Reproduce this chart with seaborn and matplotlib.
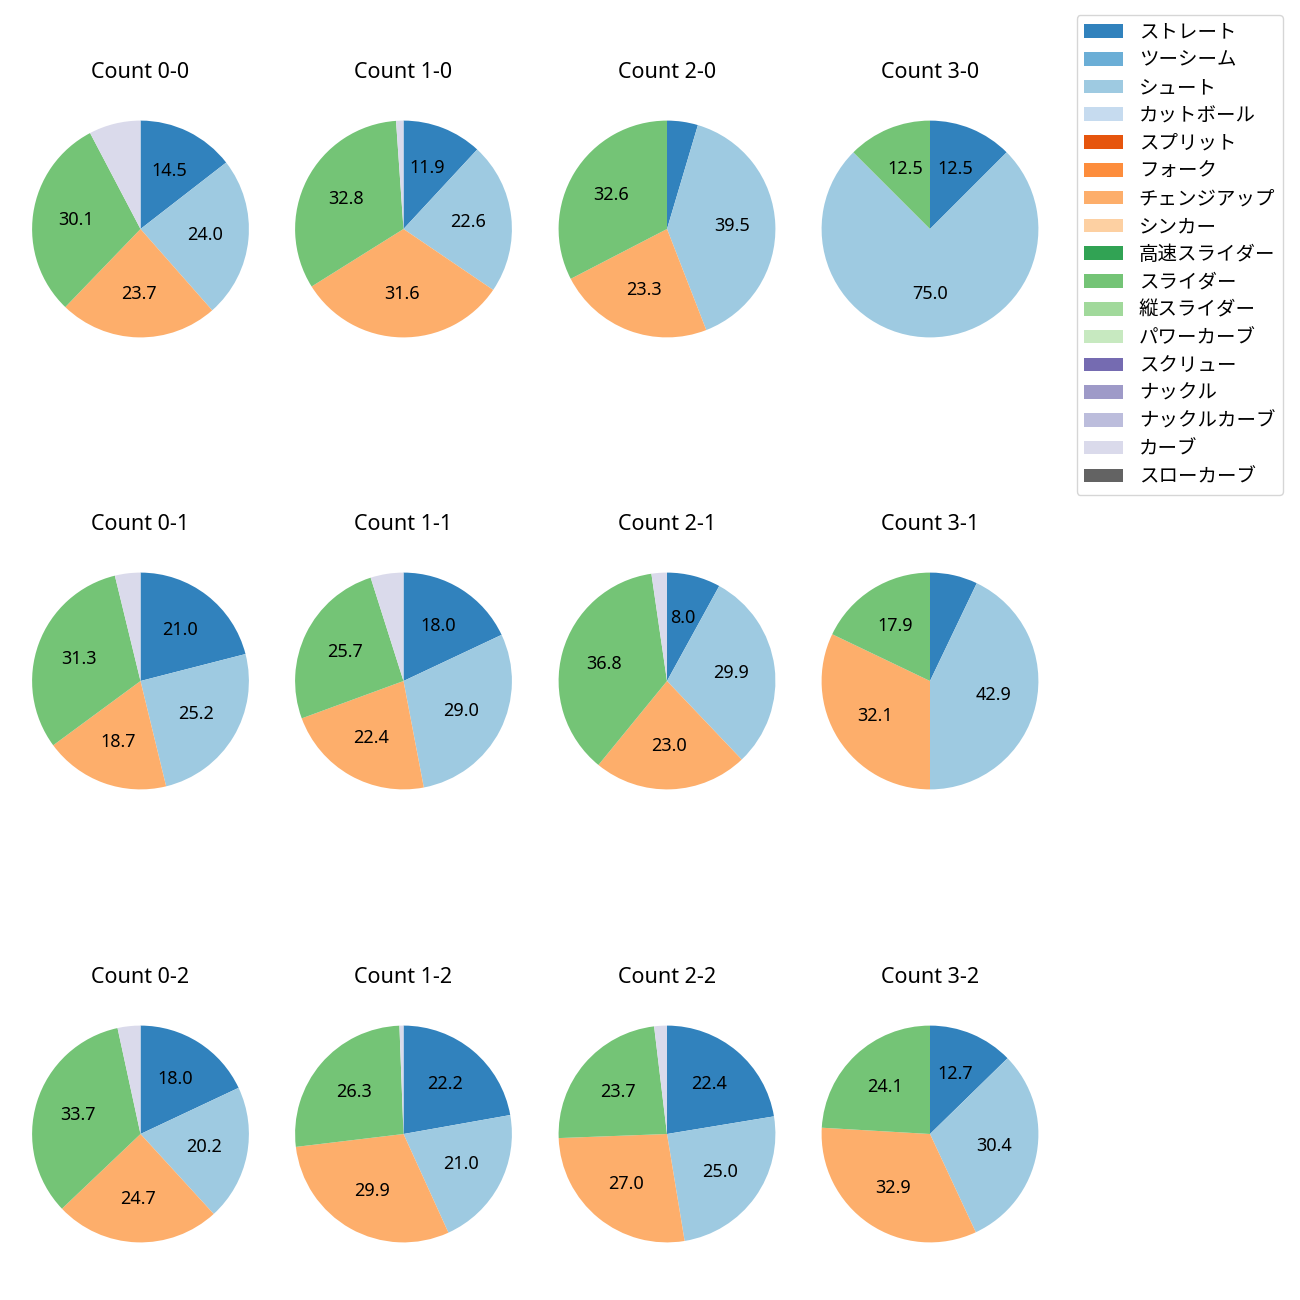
import numpy as np
import pandas as pd
import matplotlib
matplotlib.use('Agg')
import matplotlib.pyplot as plt
import matplotlib.patches as mpatches
import seaborn as sns

sns.set_style('white')
plt.rcParams['font.family'] = ['Noto Sans', 'Noto Sans CJK JP', 'DejaVu Sans']
plt.rcParams['text.color'] = 'black'

# 球種（凡例の順）
pitch_types = ['ストレート', 'ツーシーム', 'シュート', 'カットボール', 'スプリット', 'フォーク',
               'チェンジアップ', 'シンカー', '高速スライダー', 'スライダー', '縦スライダー',
               'パワーカーブ', 'スクリュー', 'ナックル', 'ナックルカーブ', 'カーブ', 'スローカーブ']

# 実際に投げている球種
used_types = ['ストレート', 'シュート', 'チェンジアップ', 'スライダー', 'カーブ']

counts = ['0-0', '1-0', '2-0', '3-0',
          '0-1', '1-1', '2-1', '3-1',
          '0-2', '1-2', '2-2', '3-2']

# 各カウントの割合 (%)  ストレート, シュート, チェンジアップ, スライダー, カーブ
share_0_0 = [14.5, 24.0, 23.7, 30.1, 7.7]
share_1_0 = [11.9, 22.6, 31.6, 32.8, 1.1]
share_2_0 = [4.6, 39.5, 23.3, 32.6, 0.0]
share_3_0 = [12.5, 75.0, 0.0, 12.5, 0.0]
share_0_1 = [21.0, 25.2, 18.7, 31.3, 3.8]
share_1_1 = [18.0, 29.0, 22.4, 25.7, 4.9]
share_2_1 = [8.0, 29.9, 23.0, 36.8, 2.3]
share_3_1 = [7.1, 42.9, 32.1, 17.9, 0.0]
share_0_2 = [18.0, 20.2, 24.7, 33.7, 3.4]
share_1_2 = [22.2, 21.0, 29.9, 26.3, 0.6]
share_2_2 = [22.4, 25.0, 27.0, 23.7, 1.9]
share_3_2 = [12.7, 30.4, 32.9, 24.1, 0.0]

shares = [share_0_0, share_1_0, share_2_0, share_3_0,
          share_0_1, share_1_1, share_2_1, share_3_1,
          share_0_2, share_1_2, share_2_2, share_3_2]

palette = sns.color_palette('tab20c', 20)[:len(pitch_types)]
color_map = dict(zip(pitch_types, palette))

fig = plt.figure(figsize=(13, 13), dpi=100)

# 配置 (ピクセル)
col_x = [140.5, 403.5, 667, 930]
row_y = [229, 681, 1134]
side = 271

for i, (cnt, vals) in enumerate(zip(counts, shares)):
    r, c = divmod(i, 4)
    ax = fig.add_axes([(col_x[c] - side / 2) / 1300, 1 - (row_y[r] + side / 2) / 1300,
                       side / 1300, side / 1300])
    df = pd.DataFrame({'type': used_types, 'share': vals})
    df = df[df['share'] > 0]
    ax.pie(df['share'], colors=[color_map[t] for t in df['type']],
           startangle=90, counterclock=False,
           autopct=lambda p: f'{p:.1f}' if p > 7.8 else '',
           wedgeprops={'linewidth': 0},
           textprops={'fontsize': 13, 'color': 'black'})
    ax.set_title(f'Count {cnt}', fontsize=15.5, pad=11, color='black')

handles = [mpatches.Patch(facecolor=color_map[t], linewidth=0, label=t) for t in pitch_types]
fig.legend(handles=handles, loc='upper right', bbox_to_anchor=(1283 / 1300, 1 - 15 / 1300),
           borderaxespad=0, fontsize=14, labelspacing=0.4, labelcolor='black')

plt.savefig('out.png', dpi=100)
